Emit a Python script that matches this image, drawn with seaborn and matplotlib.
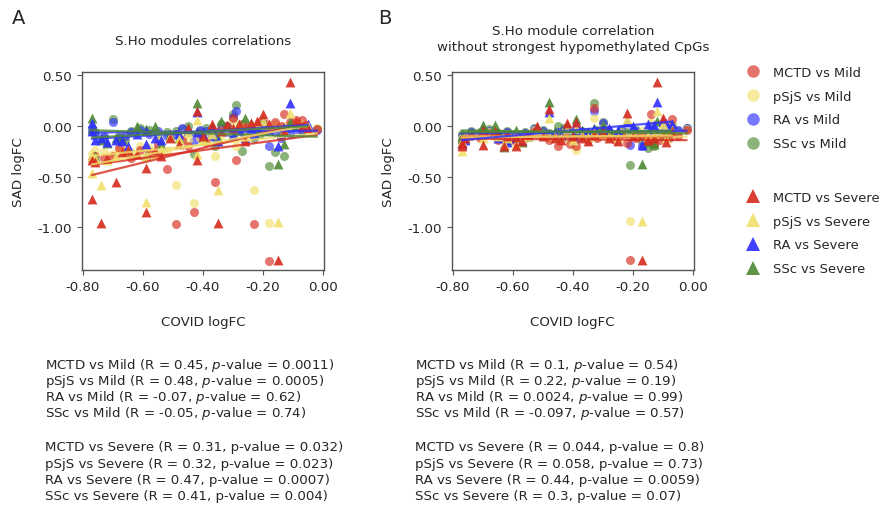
import matplotlib
matplotlib.use("Agg")
import matplotlib.pyplot as plt
import matplotlib.ticker as mticker
from matplotlib.lines import Line2D
import seaborn as sns
import pandas as pd

sns.set_style("ticks")
plt.rcParams["font.family"] = ["DejaVu Sans"]
plt.rcParams["font.size"] = 9.6
plt.rcParams["axes.unicode_minus"] = False

diseases = ["MCTD", "pSjS", "RA", "SSc"]
colors = ["#d62a1e", "#f0df6a", "#2e2eff", "#4e8a34"]

# ---- panel A : all CpGs ----
a_mild_x = [-0.77, -0.76, -0.73, -0.70, -0.68, -0.66, -0.64, -0.61, -0.58, -0.55, -0.52, -0.49,
            -0.47, -0.45, -0.43, -0.41, -0.39, -0.37, -0.36, -0.34, -0.32, -0.30, -0.29, -0.27,
            -0.25, -0.23, -0.21, -0.19, -0.18, -0.16, -0.14, -0.13, -0.11, -0.09, -0.07, -0.02]
a_mild_mctd = [-0.34, -0.30, -0.32, -0.30, -0.22, -0.26, -0.32, -0.24, -0.26, -0.18, -0.43, -0.97,
               -0.14, -0.20, -0.85, -0.08, -0.16, -0.04, -0.55, -0.04, 0.00, 0.08, -0.34, 0.02,
               0.00, -0.97, 0.04, 0.02, -1.33, 0.04, 0.00, 0.12, 0.04, 0.06, 0.06, -0.03]
a_mild_psjs = [-0.28, -0.24, -0.26, -0.28, -0.22, -0.20, -0.26, -0.20, -0.22, -0.12, -0.25, -0.58,
               -0.08, -0.14, -0.76, -0.12, -0.10, -0.05, -0.30, -0.09, -0.04, 0.05, -0.20, 0.00,
               -0.02, -0.63, 0.02, -0.04, -0.96, 0.02, -0.02, 0.00, 0.00, 0.02, 0.02, -0.02]
a_mild_ra = [-0.05, -0.08, -0.10, 0.04, -0.12, -0.10, -0.06, -0.04, -0.08, -0.05, -0.10, -0.08,
             -0.02, -0.06, -0.15, -0.04, -0.05, -0.10, -0.12, -0.03, 0.00, 0.09, 0.15, -0.06,
             -0.02, -0.10, -0.05, -0.02, -0.20, -0.06, -0.12, -0.04, -0.08, -0.03, -0.05, -0.04]
a_mild_ssc = [-0.02, -0.06, -0.12, 0.07, -0.10, -0.14, -0.05, -0.02, -0.04, -0.08, -0.06, -0.05,
              -0.03, 0.00, -0.28, -0.05, -0.02, -0.10, -0.20, 0.02, -0.05, 0.12, 0.21, -0.25,
              -0.04, -0.12, -0.08, -0.05, -0.40, -0.26, -0.10, -0.30, -0.02, 0.00, -0.04, -0.03]

a_sev_x = [-0.77, -0.77, -0.76, -0.74, -0.72, -0.69, -0.67, -0.65, -0.62, -0.59, -0.59, -0.56,
           -0.54, -0.51, -0.48, -0.45, -0.42, -0.42, -0.40, -0.37, -0.35, -0.34, -0.32, -0.30,
           -0.28, -0.26, -0.24, -0.22, -0.20, -0.18, -0.15, -0.13, -0.11, -0.09, -0.07, -0.05]
a_sev_mctd = [-0.72, -0.34, -0.36, -0.96, -0.32, -0.55, -0.26, -0.24, -0.28, -0.85, -0.42, -0.24,
              -0.30, -0.12, -0.18, -0.02, 0.15, -0.34, -0.10, 0.02, -0.96, -0.05, 0.01, -0.02,
              0.02, -0.15, 0.03, 0.05, 0.12, 0.02, -1.32, -0.05, 0.43, 0.05, 0.00, -0.02]
a_sev_psjs = [-0.46, -0.30, -0.32, -0.58, -0.34, -0.30, -0.26, -0.24, -0.28, -0.75, -0.30, -0.28,
              -0.24, -0.10, -0.13, -0.06, 0.06, -0.28, -0.14, -0.08, -0.63, -0.04, -0.04, -0.02,
              0.00, -0.10, 0.02, 0.02, 0.05, 0.00, -0.95, -0.04, 0.13, 0.04, 0.02, 0.00]
a_sev_ra = [0.03, -0.05, -0.14, -0.12, -0.16, -0.14, -0.15, -0.20, -0.08, -0.18, -0.05, -0.12,
            -0.14, -0.10, -0.08, -0.05, 0.14, -0.06, -0.08, -0.02, -0.15, -0.03, -0.05, -0.09,
            -0.04, -0.12, -0.02, 0.00, 0.03, -0.04, -0.20, -0.02, 0.22, 0.03, 0.01, 0.02]
a_sev_ssc = [0.08, -0.03, -0.30, -0.14, -0.17, -0.12, -0.13, -0.24, 0.00, -0.29, -0.03, 0.00,
             -0.18, -0.08, -0.12, -0.02, 0.22, -0.05, -0.11, 0.00, -0.12, 0.05, 0.00, -0.06,
             0.02, 0.08, 0.03, -0.02, 0.06, 0.00, -0.38, -0.18, 0.04, 0.01, 0.00, -0.01]

# ---- panel B : without strongest hypomethylated CpGs ----
b_mild_x = [-0.77, -0.74, -0.71, -0.68, -0.65, -0.62, -0.59, -0.56, -0.53, -0.50, -0.48, -0.45,
            -0.43, -0.41, -0.39, -0.37, -0.35, -0.33, -0.32, -0.30, -0.28, -0.26, -0.24, -0.22,
            -0.21, -0.19, -0.17, -0.15, -0.14, -0.13, -0.11, -0.09, -0.08, -0.07, -0.05, -0.02]
b_mild_mctd = [-0.15, -0.10, -0.12, -0.08, -0.14, -0.10, -0.16, -0.12, -0.06, -0.10, -0.14, -0.20,
               -0.08, -0.18, -0.20, -0.10, -0.14, 0.18, -0.12, -0.06, -0.10, -0.14, -0.08, -0.17,
               -1.32, -0.12, -0.10, -0.16, 0.12, -0.18, -0.14, -0.08, -0.12, 0.07, -0.10, -0.04]
b_mild_psjs = [-0.12, -0.09, -0.10, -0.06, -0.11, -0.08, -0.14, -0.10, -0.04, -0.08, -0.12, -0.10,
               -0.06, -0.14, -0.24, -0.08, -0.10, 0.08, -0.10, -0.02, -0.08, -0.12, -0.06, -0.10,
               -0.94, -0.10, -0.05, -0.12, 0.04, -0.12, -0.10, -0.06, -0.09, 0.02, -0.08, -0.03]
b_mild_ra = [-0.10, -0.06, -0.08, -0.05, -0.09, -0.06, -0.10, -0.07, -0.03, -0.05, -0.08, -0.06,
             -0.04, -0.10, -0.12, -0.06, -0.08, 0.15, -0.06, 0.03, -0.05, -0.08, -0.04, -0.08,
             -0.19, -0.05, -0.20, -0.08, 0.00, -0.06, -0.07, -0.03, -0.06, 0.00, -0.04, -0.02]
b_mild_ssc = [-0.08, -0.05, -0.06, -0.03, -0.07, -0.05, -0.12, -0.06, -0.02, -0.04, -0.07, 0.00,
              -0.02, -0.08, -0.10, -0.05, -0.06, 0.22, -0.04, 0.04, -0.06, -0.09, -0.03, -0.06,
              -0.39, -0.04, -0.15, -0.22, -0.02, -0.20, -0.08, -0.02, -0.05, 0.01, -0.05, -0.02]

b_sev_x = [-0.77, -0.77, -0.76, -0.70, -0.70, -0.66, -0.65, -0.63, -0.62, -0.59, -0.59, -0.57,
           -0.55, -0.52, -0.50, -0.48, -0.46, -0.44, -0.42, -0.40, -0.39, -0.37, -0.35, -0.33,
           -0.30, -0.28, -0.25, -0.22, -0.20, -0.17, -0.15, -0.13, -0.12, -0.10, -0.09, -0.07]
b_sev_mctd = [-0.17, -0.20, -0.12, -0.19, -0.04, -0.05, -0.08, -0.20, -0.10, -0.20, -0.11, -0.15,
              -0.08, 0.00, -0.10, 0.17, -0.12, -0.14, 0.03, -0.10, 0.04, -0.12, -0.15, -0.08,
              -0.06, -0.12, -0.15, 0.13, -0.10, -1.32, -0.14, -0.12, 0.43, 0.08, -0.16, -0.05]
b_sev_psjs = [-0.25, -0.15, -0.10, -0.12, -0.06, -0.09, -0.10, -0.18, -0.12, -0.18, -0.08, -0.12,
              -0.10, -0.05, -0.08, 0.08, -0.10, -0.12, -0.03, -0.14, -0.02, -0.09, -0.11, -0.06,
              -0.08, -0.10, -0.12, 0.07, -0.08, -0.94, -0.10, -0.08, 0.15, 0.02, -0.12, -0.04]
b_sev_ra = [-0.18, -0.16, -0.14, -0.05, -0.08, -0.06, -0.12, -0.18, -0.16, -0.12, -0.10, -0.14,
            -0.09, -0.03, -0.08, 0.14, -0.07, -0.10, -0.02, -0.08, 0.02, -0.05, -0.06, -0.03,
            -0.04, -0.02, -0.04, 0.04, 0.00, -0.19, 0.02, 0.01, 0.23, 0.05, 0.03, 0.02]
b_sev_ssc = [-0.10, -0.13, -0.12, 0.01, -0.02, 0.01, -0.06, -0.21, -0.14, -0.04, -0.09, -0.16,
             -0.10, -0.01, -0.06, 0.23, -0.05, -0.08, 0.01, -0.06, 0.07, -0.04, -0.08, -0.02,
             0.01, -0.05, -0.06, 0.05, -0.02, -0.38, -0.16, -0.18, 0.05, 0.04, -0.10, -0.01]

# correlation results printed under each panel
a_mild_r = ["0.45", "0.48", "-0.07", "-0.05"]
a_mild_p = ["0.0011", "0.0005", "0.62", "0.74"]
a_sev_r = ["0.31", "0.32", "0.47", "0.41"]
a_sev_p = ["0.032", "0.023", "0.0007", "0.004"]
b_mild_r = ["0.1", "0.22", "0.0024", "-0.097"]
b_mild_p = ["0.54", "0.19", "0.99", "0.57"]
b_sev_r = ["0.044", "0.058", "0.44", "0.3"]
b_sev_p = ["0.8", "0.73", "0.0059", "0.07"]


def panel_frame(mild_x, mild_ys, sev_x, sev_ys):
    rows = []
    for d, ys in zip(diseases, mild_ys):
        rows += [(x, y, d, "Mild") for x, y in zip(mild_x, ys)]
    for d, ys in zip(diseases, sev_ys):
        rows += [(x, y, d, "Severe") for x, y in zip(sev_x, ys)]
    return pd.DataFrame(rows, columns=["covid", "sad", "disease", "severity"])


df_a = panel_frame(a_mild_x, [a_mild_mctd, a_mild_psjs, a_mild_ra, a_mild_ssc],
                   a_sev_x, [a_sev_mctd, a_sev_psjs, a_sev_ra, a_sev_ssc])
df_b = panel_frame(b_mild_x, [b_mild_mctd, b_mild_psjs, b_mild_ra, b_mild_ssc],
                   b_sev_x, [b_sev_mctd, b_sev_psjs, b_sev_ra, b_sev_ssc])

marker_for = {"Mild": "o", "Severe": "^"}
alpha_for = {"Mild": 0.65, "Severe": 0.9}
size_for = {"Mild": 42, "Severe": 50}

fig = plt.figure(figsize=(8.84, 5.06), dpi=100)
ax_a = fig.add_axes([0.0928, 0.4644, 0.2738, 0.3913])
ax_b = fig.add_axes([0.5110, 0.4644, 0.2738, 0.3913])


def draw(ax, df, title, pad):
    for sev in ["Mild", "Severe"]:
        for d, c in reversed(list(zip(diseases, colors))):
            sub = df[(df.severity == sev) & (df.disease == d)]
            sns.scatterplot(data=sub, x="covid", y="sad", color=c, marker=marker_for[sev],
                            s=size_for[sev], alpha=alpha_for[sev], linewidth=0, ax=ax, legend=False)
    for sev in ["Mild", "Severe"]:
        for d, c in zip(diseases, colors):
            sub = df[(df.severity == sev) & (df.disease == d)]
            sns.regplot(data=sub, x="covid", y="sad", scatter=False, ci=None, color=c,
                        line_kws=dict(lw=1.6, alpha=0.8), ax=ax)
    ax.set_xlim(-0.803, 0.004)
    ax.set_ylim(-1.42, 0.53)
    ax.set_xticks([-0.8, -0.6, -0.4, -0.2, 0.0])
    ax.set_yticks([0.5, 0.0, -0.5, -1.0])
    ax.xaxis.set_major_formatter(mticker.FormatStrFormatter("%.2f"))
    ax.yaxis.set_major_formatter(mticker.FormatStrFormatter("%.2f"))
    ax.set_xlabel("COVID logFC", labelpad=16)
    ax.set_ylabel("SAD logFC", labelpad=9)
    ax.set_title(title, pad=pad, fontsize=9.6, linespacing=1.35)
    ax.tick_params(labelsize=9.6, length=3.5, width=0.8, color="#555555")
    for sp in ax.spines.values():
        sp.set_color("#555555")
        sp.set_linewidth(1.0)


draw(ax_a, df_a, "S.Ho modules correlations", 20)
draw(ax_b, df_b, "S.Ho module correlation\nwithout strongest hypomethylated CpGs", 15.5)

fig.text(12 / 884, 1 - 18 / 506, "A", fontsize=14, va="center")
fig.text(378 / 884, 1 - 18 / 506, "B", fontsize=14, va="center")

# legends (two groups)
mild_handles = [Line2D([], [], marker="o", ls="", color=c, alpha=0.65, markersize=9, markeredgewidth=0)
                for c in colors]
sev_handles = [Line2D([], [], marker="^", ls="", color=c, alpha=0.9, markersize=10, markeredgewidth=0)
               for c in colors]
leg_kw = dict(loc="upper left", frameon=False, borderpad=0, borderaxespad=0, handlelength=1.0,
              handletextpad=1.1, labelspacing=0.82, fontsize=9.4)
fig.legend(mild_handles, [f"{d} vs Mild" for d in diseases], bbox_to_anchor=(746 / 884, 1 - 67 / 506), **leg_kw)
fig.legend(sev_handles, [f"{d} vs Severe" for d in diseases], bbox_to_anchor=(746 / 884, 1 - 192 / 506), **leg_kw)

# correlation text blocks
def stat_block(x0, mild_r, mild_p, sev_r, sev_p):
    ys = [365, 381.3, 397.7, 414]
    for d, r, p, y in zip(diseases, mild_r, mild_p, ys):
        fig.text(x0 / 884, 1 - y / 506, f"{d} vs Mild (R = {r}, $\\mathit{{p}}$-value = {p})",
                 va="center", fontsize=9.6)
    ys = [448, 464.3, 480.7, 497]
    for d, r, p, y in zip(diseases, sev_r, sev_p, ys):
        fig.text(x0 / 884, 1 - y / 506, f"{d} vs Severe (R = {r}, p-value = {p})",
                 va="center", fontsize=9.6)


stat_block(45, a_mild_r, a_mild_p, a_sev_r, a_sev_p)
stat_block(415, b_mild_r, b_mild_p, b_sev_r, b_sev_p)

fig.savefig("out.png", dpi=100)
